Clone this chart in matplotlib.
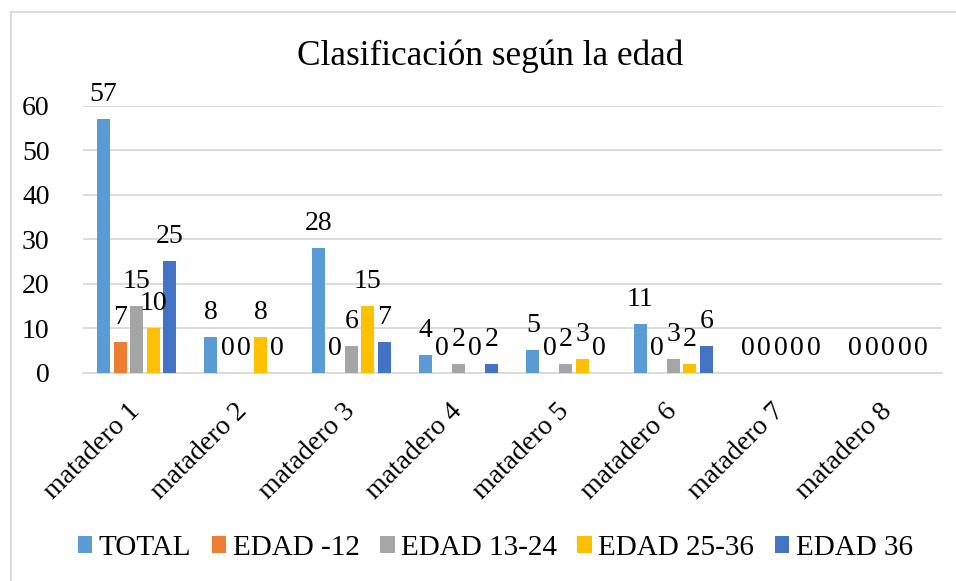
import matplotlib
matplotlib.use("Agg")
import matplotlib.pyplot as plt
import numpy as np
from matplotlib.patches import Patch
from matplotlib.lines import Line2D

categories = ["matadero 1", "matadero 2", "matadero 3", "matadero 4",
              "matadero 5", "matadero 6", "matadero 7", "matadero 8"]
series_names = ["TOTAL", "EDAD -12", "EDAD 13-24", "EDAD 25-36", "EDAD 36"]
total = [57, 8, 28, 4, 5, 11, 0, 0]
edad_12 = [7, 0, 0, 0, 0, 0, 0, 0]
edad_13_24 = [15, 0, 6, 2, 2, 3, 0, 0]
edad_25_36 = [10, 8, 15, 0, 3, 2, 0, 0]
edad_36 = [25, 0, 7, 2, 0, 6, 0, 0]
series_values = [total, edad_12, edad_13_24, edad_25_36, edad_36]
colors = ["#5B9BD5", "#ED7D31", "#A5A5A5", "#FFC000", "#4472C4"]
yticks = [0, 10, 20, 30, 40, 50, 60]

plt.rcParams['font.family'] = ['Liberation Serif', 'DejaVu Serif']

fig = plt.figure(figsize=(9.56, 5.81), dpi=100)
ax = fig.add_axes([0.0868, 0.3585, 0.985 - 0.0868, 0.818 - 0.3585])

x = np.arange(len(categories))
pitch = 0.1546
width = 0.121
for i, (vals, col) in enumerate(zip(series_values, colors)):
    pos = x + (i - 2) * pitch
    ax.bar(pos, vals, width=width, color=col, zorder=3)
    for px, v in zip(pos, vals):
        ax.annotate(str(v), (px, v), xytext=(0, 13), textcoords='offset points',
                    ha='center', va='baseline', fontsize=20, color='#000000', zorder=4)

ax.set_xlim(-0.5, len(categories) - 0.5)
ax.set_ylim(0, 60)
ax.set_yticks(yticks)
ax.set_yticklabels([str(t) for t in yticks], fontsize=20)
# category labels sit slightly left of the group centre, as in the reference
ax.set_xticks(x - 0.085)
ax.set_xticklabels(categories, fontsize=20, rotation=45, ha='right',
                   rotation_mode='anchor')
ax.tick_params(axis='both', length=0)
ax.tick_params(axis='y', pad=24)
ax.tick_params(axis='x', pad=19)
ax.grid(axis='y', color='#D9D9D9', linewidth=1.3, zorder=0)
for s in ['top', 'right', 'left']:
    ax.spines[s].set_visible(False)
ax.spines['bottom'].set_color('#D9D9D9')
ax.spines['bottom'].set_linewidth(1.3)

fig.text(0.513, 1 - 65 / 581, "Clasificación según la edad", ha='center',
         va='baseline', fontsize=25.4)

handles = [Patch(facecolor=c, edgecolor='none') for c in colors]
fig.legend(handles, series_names, loc='center', bbox_to_anchor=(0.518, 0.057),
           ncol=5, frameon=False, fontsize=21, handlelength=0.5,
           handleheight=0.5, handletextpad=0.22, columnspacing=0.7,
           borderaxespad=0)

fig.add_artist(Line2D([11 / 956, 11 / 956], [0, 1 - 12 / 581], color='#D9D9D9',
                      linewidth=1.3, transform=fig.transFigure))
fig.add_artist(Line2D([11 / 956, 1], [1 - 12 / 581, 1 - 12 / 581], color='#D9D9D9',
                      linewidth=1.3, transform=fig.transFigure))

fig.savefig("out.png", dpi=100, facecolor='white')
